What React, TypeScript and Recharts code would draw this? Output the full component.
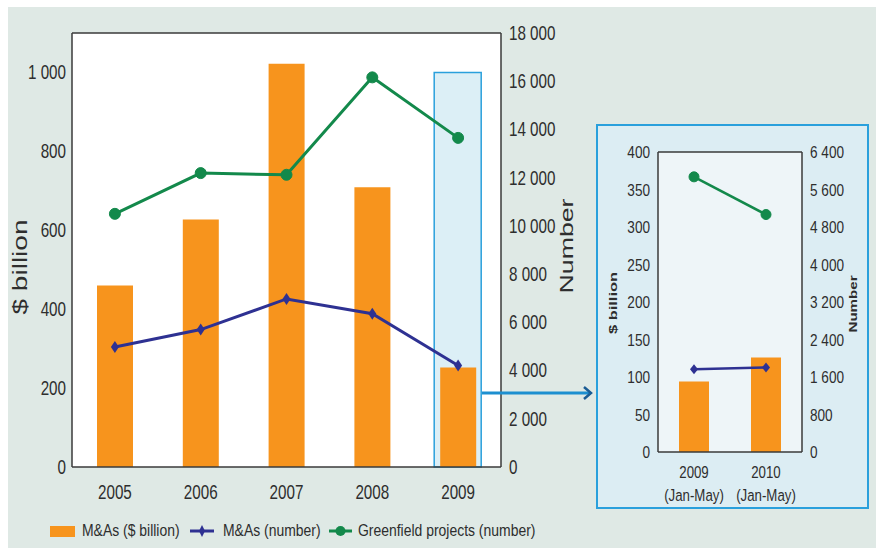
import React from 'react';
import {
  ComposedChart,
  Bar,
  Line,
  XAxis,
  YAxis,
  CartesianGrid,
  ReferenceLine,
} from 'recharts';

// main chart, 2005-2009
const years = ['2005', '2006', '2007', '2008', '2009'];
const maBillion = [460, 627, 1022, 709, 252];
const maNumber = [4980, 5700, 6970, 6360, 4210];
const greenfield = [10500, 12190, 12120, 16160, 13650];
const highlight = [null, null, null, null, 1000];

const leftTicks = [0, 200, 400, 600, 800, 1000];
const rightTicks = [0, 2000, 4000, 6000, 8000, 10000, 12000, 14000, 16000, 18000];

// inset, Jan-May
const insetPeriods = ['2009', '2010'];
const insetSub = '(Jan-May)';
const insetMaBillion = [94, 126];
const insetMaNumber = [1767, 1802];
const insetGreenfield = [5870, 5066];

const insetLeftTicks = [0, 50, 100, 150, 200, 250, 300, 350, 400];
const insetRightTicks = [0, 800, 1600, 2400, 3200, 4000, 4800, 5600, 6400];

const ORANGE = '#f7941d';
const GREEN = '#13894b';
const NAVY = '#2e3192';
const SKY = '#2aa0dc';
const AXIS = '#3a3a3a';
const TEXT = '#2e2e2e';
const SANS = "'Liberation Sans', Arial, sans-serif";

const fmt = (v: number) =>
  v >= 1000 ? `${Math.floor(v / 1000)} ${String(v % 1000).padStart(3, '0')}` : String(v);

const mainData = years.map((y, i) => ({
  year: y,
  maBillion: maBillion[i],
  maNumber: maNumber[i],
  greenfield: greenfield[i],
  highlight: highlight[i],
}));

const insetData = insetPeriods.map((p, i) => ({
  period: p,
  maBillion: insetMaBillion[i],
  maNumber: insetMaNumber[i],
  greenfield: insetGreenfield[i],
}));

// squeezed text to get the helvetica narrow look
const NarrowText = ({ x, y, anchor, dy, size, squeeze = 0.8, children }: any) => (
  <text
    x={x}
    y={y}
    dy={dy}
    textAnchor={anchor}
    fontSize={size}
    fill={TEXT}
    fontFamily={SANS}
    transform={`translate(${x} ${y}) scale(${squeeze} 1) translate(${-x} ${-y})`}
  >
    {children}
  </text>
);

const makeTick = (size: number, squeeze: number, dyEm: number, format?: (v: number) => string) => (props: any) => {
  const { x, y, payload, textAnchor } = props;
  const label = format ? format(payload.value) : String(payload.value);
  return (
    <NarrowText x={x} y={y} anchor={textAnchor} dy={dyEm * size} size={size} squeeze={squeeze}>
      {label}
    </NarrowText>
  );
};

const InsetTick = ({ x, y, payload }: any) => (
  <g>
    <NarrowText x={x} y={y + 26} anchor="middle" size={17} squeeze={0.78}>{payload.value}</NarrowText>
    <NarrowText x={x} y={y + 49} anchor="middle" size={17} squeeze={0.78}>{insetSub}</NarrowText>
  </g>
);

const makeDiamond = (w: number, h: number) => (props: any) => {
  const { cx, cy, index } = props;
  if (cx == null || cy == null) return <g key={index} />;
  return (
    <path
      key={index}
      d={`M${cx},${cy - h} L${cx + w},${cy} L${cx},${cy + h} L${cx - w},${cy} Z`}
      fill={NAVY}
    />
  );
};

const AxisTitle = ({ px, py, text, len, size, weight }: any) => (
  <text
    x={px}
    y={py}
    transform={`rotate(-90 ${px} ${py})`}
    textAnchor="middle"
    dominantBaseline="central"
    fontSize={size}
    fontWeight={weight || 'normal'}
    fill={TEXT}
    fontFamily={SANS}
    textLength={len}
    lengthAdjust="spacingAndGlyphs"
  >
    {text}
  </text>
);

export default function App() {
  return (
    <div style={{ position: 'absolute', left: 0, top: 0, width: 876, height: 548, background: '#fff', overflow: 'hidden' }}>
      <div style={{ position: 'absolute', left: 8, top: 7, width: 868, height: 541, background: '#dfe9e5' }} />

      {/* main chart */}
      <div style={{ position: 'absolute', left: 0, top: 0 }}>
        <ComposedChart width={600} height={548} data={mainData} margin={{ top: 33, right: 29, left: 12, bottom: 51 }}>
          <CartesianGrid xAxisId="main" yAxisId="left" horizontal={false} vertical={false} fill="#fff" />
          <XAxis
            xAxisId="main"
            dataKey="year"
            tick={makeTick(19.5, 0.78, 0.71)}
            tickLine={false}
            tickSize={16}
            tickMargin={2}
            height={30}
            axisLine={{ stroke: AXIS, strokeWidth: 1.5 }}
          />
          <XAxis xAxisId="hl" dataKey="year" orientation="top" hide />
          <YAxis
            yAxisId="left"
            domain={[0, 1100]}
            ticks={leftTicks}
            tick={makeTick(19.5, 0.78, 0.355, fmt)}
            tickLine={false}
            tickSize={4}
            tickMargin={2}
            width={60}
            axisLine={{ stroke: AXIS, strokeWidth: 1.5 }}
            label={<AxisTitle px={20} py={267} text="$ billion" len={95} size={20} />}
          />
          <YAxis
            yAxisId="right"
            orientation="right"
            domain={[0, 18000]}
            ticks={rightTicks}
            tick={makeTick(19.5, 0.78, 0.355, fmt)}
            tickLine={false}
            width={70}
            axisLine={{ stroke: AXIS, strokeWidth: 1.5 }}
            label={<AxisTitle px={566} py={246} text="Number" len={95} size={19} />}
          />
          <ReferenceLine xAxisId="main" yAxisId="left" y={1100} stroke={AXIS} strokeWidth={1.5} />
          <Bar xAxisId="hl" yAxisId="left" dataKey="highlight" barSize={47} fill="#dcEff6" stroke={SKY} strokeWidth={1.5} isAnimationActive={false} />
          <Bar xAxisId="main" yAxisId="left" dataKey="maBillion" barSize={36} fill={ORANGE} isAnimationActive={false} />
          <Line
            xAxisId="main"
            yAxisId="right"
            dataKey="maNumber"
            stroke={NAVY}
            strokeWidth={3}
            dot={makeDiamond(4, 6)}
            isAnimationActive={false}
          />
          <Line
            xAxisId="main"
            yAxisId="right"
            dataKey="greenfield"
            stroke={GREEN}
            strokeWidth={3}
            dot={{ r: 5.5, fill: GREEN, stroke: GREEN, strokeWidth: 1 }}
            isAnimationActive={false}
          />
        </ComposedChart>
      </div>

      {/* arrow to inset */}
      <svg width={876} height={548} style={{ position: 'absolute', left: 0, top: 0, pointerEvents: 'none' }}>
        <line x1={482} y1={393} x2={589} y2={393} stroke="#1c8fd0" strokeWidth={3} />
        <path d="M584,387 L591,393 L584,399" fill="none" stroke="#1a5c94" strokeWidth={2.5} />
      </svg>

      {/* inset */}
      <div
        style={{
          position: 'absolute',
          left: 596,
          top: 124,
          width: 273,
          height: 385,
          boxSizing: 'border-box',
          border: `2px solid ${SKY}`,
          background: '#dcedf3',
        }}
      >
        <ComposedChart width={269} height={381} data={insetData} margin={{ top: 26, right: 7, left: 8, bottom: 10 }}>
          <CartesianGrid xAxisId="main" yAxisId="left" horizontal={false} vertical={false} fill="#eef5f8" />
          <XAxis
            xAxisId="main"
            dataKey="period"
            tick={<InsetTick />}
            tickLine={false}
            tickSize={0}
            tickMargin={0}
            height={45}
            axisLine={{ stroke: AXIS, strokeWidth: 1.5 }}
          />
          <YAxis
            yAxisId="left"
            domain={[0, 400]}
            ticks={insetLeftTicks}
            tick={makeTick(17, 0.8, 0.355)}
            tickLine={false}
            width={52}
            axisLine={{ stroke: AXIS, strokeWidth: 1.5 }}
            label={<AxisTitle px={15} py={177} text="$ billion" len={62} size={11} weight="bold" />}
          />
          <YAxis
            yAxisId="right"
            orientation="right"
            domain={[0, 6400]}
            ticks={insetRightTicks}
            tick={makeTick(17, 0.8, 0.355, fmt)}
            tickLine={false}
            width={58}
            axisLine={{ stroke: AXIS, strokeWidth: 1.5 }}
            label={<AxisTitle px={255} py={178} text="Number" len={57} size={11} weight="bold" />}
          />
          <ReferenceLine xAxisId="main" yAxisId="left" y={400} stroke={AXIS} strokeWidth={1.5} />
          <Bar xAxisId="main" yAxisId="left" dataKey="maBillion" barSize={30} fill={ORANGE} isAnimationActive={false} />
          <Line
            xAxisId="main"
            yAxisId="right"
            dataKey="maNumber"
            stroke={NAVY}
            strokeWidth={2.5}
            dot={makeDiamond(4, 5)}
            isAnimationActive={false}
          />
          <Line
            xAxisId="main"
            yAxisId="right"
            dataKey="greenfield"
            stroke={GREEN}
            strokeWidth={2.5}
            dot={{ r: 5, fill: GREEN, stroke: GREEN, strokeWidth: 1 }}
            isAnimationActive={false}
          />
        </ComposedChart>
      </div>

      {/* legend */}
      <div style={{ position: 'absolute', left: 0, top: 0, fontFamily: SANS, fontSize: 17, lineHeight: '17px', color: TEXT, whiteSpace: 'nowrap' }}>
        <svg width={25} height={11} style={{ position: 'absolute', left: 50, top: 526 }}>
          <rect x={0} y={0} width={25} height={11} fill={ORANGE} />
        </svg>
        <span style={{ position: 'absolute', left: 82, top: 522, transform: 'scaleX(0.82)', transformOrigin: 'left center' }}>
          M&amp;As ($ billion)
        </span>
        <svg width={24} height={14} style={{ position: 'absolute', left: 190, top: 524 }}>
          <line x1={0} y1={7} x2={24} y2={7} stroke={NAVY} strokeWidth={3} />
          <path d="M12,1 L15,7 L12,13 L9,7 Z" fill={NAVY} />
        </svg>
        <span style={{ position: 'absolute', left: 223, top: 522, transform: 'scaleX(0.82)', transformOrigin: 'left center' }}>
          M&amp;As (number)
        </span>
        <svg width={23} height={14} style={{ position: 'absolute', left: 329, top: 524 }}>
          <line x1={0} y1={7} x2={23} y2={7} stroke={GREEN} strokeWidth={3} />
          <circle cx={11.5} cy={7} r={5} fill={GREEN} />
        </svg>
        <span style={{ position: 'absolute', left: 358, top: 522, transform: 'scaleX(0.82)', transformOrigin: 'left center' }}>
          Greenfield projects (number)
        </span>
      </div>
    </div>
  );
}
